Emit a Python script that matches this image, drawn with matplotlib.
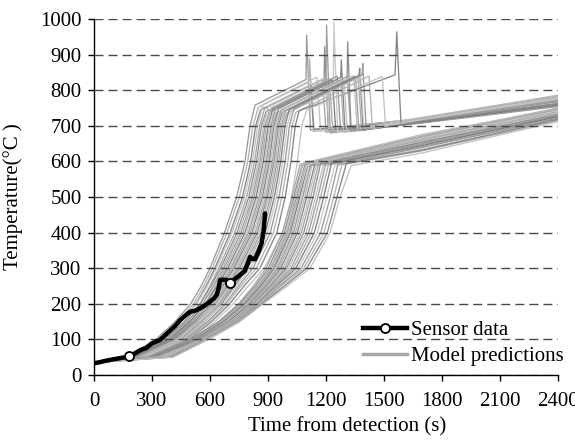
import matplotlib
matplotlib.use("Agg")
import matplotlib.pyplot as plt
from matplotlib.lines import Line2D

plt.rcParams['font.family'] = ['Liberation Serif', 'DejaVu Serif']
plt.rcParams['font.size'] = 15
plt.rcParams['lines.scale_dashes'] = False

# ---------------- Sensor data ----------------
sensor_t = [0, 30, 60, 100, 140, 180, 210, 240, 270, 300, 340, 380, 420, 445, 470, 497,
            520, 548, 575, 600, 620, 635, 645, 652, 665, 686, 703, 730, 755, 780, 798,
            807, 820, 833, 850, 867, 877, 885]
sensor_T = [33, 36, 40, 44, 48, 52, 60, 70, 76, 89, 98, 118, 138, 154, 166, 178,
            180, 187, 196, 206, 215, 225, 245, 267, 268, 267, 258, 270, 281, 292, 318,
            332, 326, 325, 345, 370, 405, 454]
sensor_marker_idx = [5, 26]

# ---------------- Model predictions ----------------
start_T = 35
# temperature levels at which crossing times were read
lvl_common = [50, 100, 150, 200, 250, 300, 400, 500]
lvl_upper = [600, 700]

# Upper (flashover) model runs: crossing times of each level
up_t50 = [170, 150, 200, 185, 210, 175, 215, 200, 225, 190, 230, 215, 240, 205, 250, 230,
          255, 240, 265, 250, 270, 260, 280, 275, 290, 300]
up_t100 = [320, 335, 355, 345, 375, 365, 390, 380, 400, 392, 410, 405, 420, 412, 432, 425,
           445, 438, 455, 450, 468, 462, 478, 485, 495, 510]
up_t150 = [420, 435, 450, 448, 470, 468, 485, 482, 498, 495, 510, 508, 522, 520, 535, 532,
           548, 545, 560, 558, 574, 572, 588, 595, 608, 625]
up_t200 = [500, 515, 528, 530, 548, 550, 562, 563, 575, 578, 590, 592, 603, 606, 617, 620,
           630, 634, 645, 650, 660, 665, 678, 688, 702, 720]
up_t250 = [555, 568, 580, 586, 600, 605, 615, 620, 630, 637, 646, 652, 660, 667, 676, 683,
           692, 700, 709, 717, 726, 735, 748, 760, 776, 798]
up_t300 = [600, 612, 625, 633, 645, 655, 664, 672, 682, 692, 700, 708, 716, 724, 733, 742,
           752, 762, 772, 783, 795, 808, 822, 840, 858, 880]
up_t400 = [675, 688, 705, 714, 728, 740, 750, 760, 770, 781, 790, 799, 808, 817, 826, 835,
           845, 854, 864, 874, 886, 898, 912, 928, 946, 975]
up_t500 = [738, 752, 768, 778, 790, 801, 811, 820, 828, 838, 846, 855, 863, 871, 879, 888,
           896, 904, 913, 922, 933, 944, 957, 972, 989, 1022]
up_t600 = [781, 795, 810, 820, 831, 841, 851, 859, 867, 876, 884, 892, 899, 907, 915, 923,
           931, 939, 947, 956, 966, 977, 989, 1003, 1019, 1052]
up_t700 = [807, 822, 836, 846, 857, 866, 876, 884, 892, 901, 908, 916, 923, 931, 938, 946,
           954, 962, 970, 978, 988, 999, 1011, 1025, 1041, 1075]
up_tk = [833, 850, 862, 874, 882, 890, 901, 905, 917, 924, 930, 941, 942, 954, 959, 968,
         973, 986, 991, 996, 1009, 1019, 1034, 1044, 1061, 1100]
up_Tk = [758, 752, 745, 760, 748, 740, 755, 738, 750, 745, 742, 752, 736, 748, 740, 745,
         738, 750, 742, 735, 745, 740, 748, 738, 742, 744]
up_tp = [1097, 1112, 1117, 1150, 1180, 1190, 1195, 1200, 1215, 1230, 1238, 1255, 1273, 1276,
         1290, 1307, 1309, 1340, 1350, 1364, 1371, 1376, 1387, 1420, 1557, 1488]
up_Tp = [830, 823, 814, 836, 829, 821, 835, 818, 832, 829, 826, 839, 826, 836, 830, 838,
         829, 840, 838, 835, 842, 838, 843, 839, 843, 838]
up_ts = [1100, 1115, 1120, 1153, 1183, 1193, 1198, 1203, 1218, 1233, 1241, 1258, 1276, 1279,
         1293, 1310, 1312, 1343, 1353, 1367, 1374, 1379, 1390, 1423, 1566, 1491]
up_Ts = [955, 890, 814, 836, 829, 922, 835, 983, 832, 829, 990, 839, 826, 885, 830, 838,
         936, 840, 838, 835, 861, 838, 875, 839, 964, 838]
up_tb = [1120, 1135, 1138, 1172, 1200, 1212, 1215, 1222, 1235, 1250, 1260, 1275, 1292, 1298,
         1310, 1328, 1330, 1362, 1370, 1384, 1392, 1396, 1408, 1440, 1588, 1508]
up_Tb = [688, 684, 690, 686, 682, 688, 692, 680, 686, 690, 684, 688, 682, 690, 686, 684,
         688, 692, 686, 690, 688, 694, 690, 692, 702, 700]
up_T1700 = [718, 712, 720, 714, 709, 716, 722, 708, 715, 719, 711, 717, 710, 721, 713, 716,
            712, 724, 714, 718, 710, 720, 716, 722, 712, 718]
up_Tend = [776, 764, 784, 770, 756, 772, 786, 754, 768, 780, 760, 774, 758, 782, 766, 772,
           762, 785, 768, 778, 758, 780, 770, 783, 762, 775]

# Lower model runs
lo_t50 = [290, 280, 305, 295, 315, 300, 320, 310, 330, 318, 338, 328, 348, 338, 358, 350,
          368, 362, 378, 388, 398, 410]
lo_t100 = [505, 500, 520, 515, 530, 525, 538, 540, 548, 545, 555, 560, 565, 565, 572, 575,
           580, 583, 586, 588, 590, 590]
lo_t150 = [645, 648, 660, 662, 672, 672, 682, 688, 694, 697, 705, 710, 716, 720, 727, 732,
           738, 742, 746, 750, 752, 755]
lo_t200 = [748, 755, 765, 770, 778, 782, 790, 796, 803, 808, 815, 820, 827, 832, 840, 845,
           850, 855, 860, 865, 870, 875]
lo_t250 = [825, 835, 843, 850, 858, 864, 872, 878, 886, 892, 900, 907, 915, 922, 930, 937,
           945, 952, 960, 970, 985, 1000]
lo_t300 = [890, 902, 910, 918, 926, 933, 941, 949, 958, 967, 977, 986, 996, 1007, 1019, 1031,
           1044, 1057, 1071, 1085, 1100, 1117]
lo_t400 = [975, 985, 993, 1000, 1008, 1016, 1024, 1032, 1042, 1052, 1063, 1073, 1085, 1098,
           1110, 1124, 1140, 1156, 1173, 1190, 1207, 1221]
lo_t500 = [1025, 1034, 1041, 1048, 1056, 1064, 1072, 1080, 1090, 1100, 1111, 1121, 1133, 1146,
           1158, 1172, 1188, 1204, 1222, 1240, 1257, 1273]
lo_tk = [1066, 1075, 1082, 1090, 1098, 1105, 1112, 1120, 1130, 1140, 1150, 1160, 1172, 1185,
         1198, 1212, 1228, 1245, 1262, 1282, 1305, 1330]
lo_Tk = [592, 588, 595, 590, 594, 586, 592, 590, 596, 588, 592, 590, 594, 588, 592, 590,
         594, 588, 592, 590, 594, 588]
lo_T1700 = [672, 668, 676, 664, 670, 660, 666, 655, 662, 650, 658, 648, 654, 642, 650, 640,
            645, 635, 640, 630, 632, 624]
lo_Tend = [750, 745, 748, 740, 746, 735, 742, 730, 738, 728, 735, 725, 732, 722, 730, 720,
           726, 716, 722, 714, 718, 712]
t_mid = 1700
t_end = 2400

grays = ['#9a9a9a', '#b4b4b4', '#868686', '#c2c2c2', '#a6a6a6', '#8f8f8f', '#bcbcbc',
         '#9f9f9f', '#adadad', '#7e7e7e', '#c8c8c8']

fig = plt.figure(figsize=(5.75, 4.42), dpi=100)
ax = fig.add_axes([94/575, 67/442, 464/575, 356/442])

k = 0
for i in range(len(up_tk)):
    xs = [0, up_t50[i], up_t100[i], up_t150[i], up_t200[i], up_t250[i], up_t300[i],
          up_t400[i], up_t500[i], up_t600[i], up_t700[i], up_tk[i],
          up_tp[i], up_ts[i], up_tb[i], t_mid, t_end]
    ys = ([start_T] + lvl_common + lvl_upper +
          [up_Tk[i], up_Tp[i], up_Ts[i], up_Tb[i], up_T1700[i], up_Tend[i]])
    ax.plot(xs, ys, color=grays[k % len(grays)], lw=0.95, zorder=2)
    k += 1
for i in range(len(lo_tk)):
    xs = [0, lo_t50[i], lo_t100[i], lo_t150[i], lo_t200[i], lo_t250[i], lo_t300[i],
          lo_t400[i], lo_t500[i], lo_tk[i], t_mid, t_end]
    ys = [start_T] + lvl_common + [lo_Tk[i], lo_T1700[i], lo_Tend[i]]
    ax.plot(xs, ys, color=grays[k % len(grays)], lw=0.95, zorder=2)
    k += 1

ax.plot(sensor_t, sensor_T, color='black', lw=3.2, solid_capstyle='round',
        solid_joinstyle='round', zorder=4)
ax.plot([sensor_t[j] for j in sensor_marker_idx], [sensor_T[j] for j in sensor_marker_idx],
        ls='none', marker='o', ms=6.5, mfc='white', mec='black', mew=1.3, zorder=5)

ax.set_xlim(0, 2400)
ax.set_ylim(0, 1000)
ax.set_xticks(range(0, 2401, 300))
ax.set_yticks(range(0, 1001, 100))
ax.spines['top'].set_visible(False)
ax.spines['right'].set_visible(False)
for s in ('left', 'bottom'):
    ax.spines[s].set_linewidth(1.0)
ax.tick_params(axis='both', direction='out', length=4, width=1.0, labelsize=15)
ax.tick_params(axis='x', pad=8)
ax.tick_params(axis='y', pad=5)

ax.set_axisbelow(False)
ax.yaxis.grid(True, color='#4a4a4a', lw=1.0, dashes=(6.5, 3.6))
ax.xaxis.grid(False)
for gl in ax.yaxis.get_gridlines():
    gl.set_zorder(2.5)

ax.set_xlabel('Time from detection (s)', fontsize=15)
ax.xaxis.set_label_coords((347-94)/464, -0.118)
ax.set_ylabel('Temperature(°C )', fontsize=15)
ax.yaxis.set_label_coords(-0.152, 0.5)

h1 = Line2D([], [], color='black', lw=3.2, marker='o', ms=6.5, mfc='white', mec='black', mew=1.3)
h2 = Line2D([], [], color='#a8a8a8', lw=2.5)
ax.legend([h1, h2], ['Sensor data', 'Model predictions'], loc='upper left',
          bbox_to_anchor=(0.58, 0.152), frameon=False, borderaxespad=0, borderpad=0,
          handlelength=2.1, handletextpad=0.2, labelspacing=0.3, fontsize=15, numpoints=1)

fig.savefig('out.png', dpi=100)
